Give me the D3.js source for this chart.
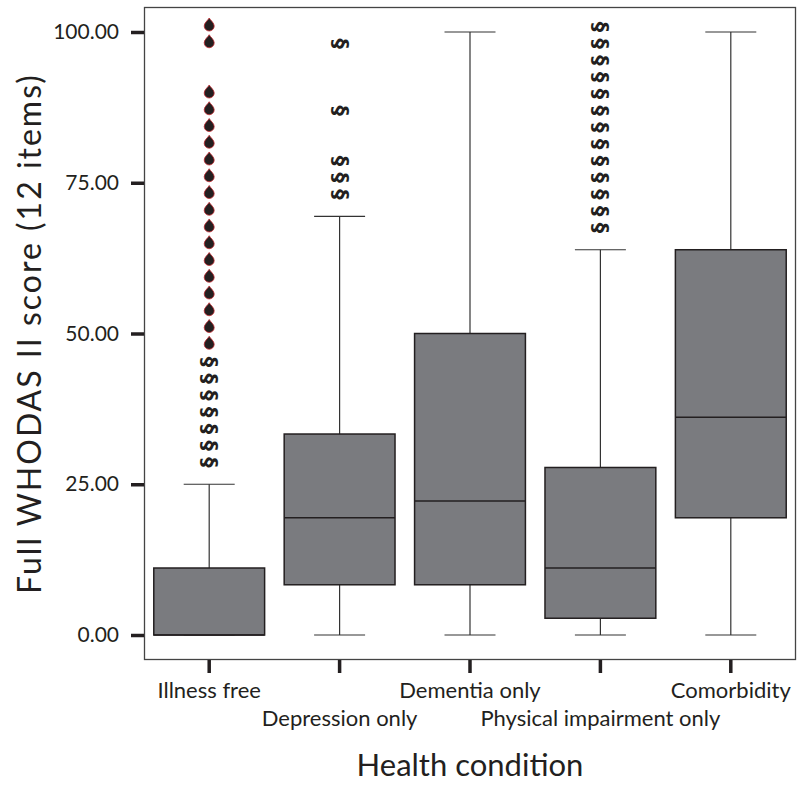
<!DOCTYPE html>
<html>
<head>
<meta charset="utf-8">
<script src="https://cdn.jsdelivr.net/npm/d3@7"></script>
<style>
  body { margin: 0; background: #fff; }
  text { font-family: Lato, "DejaVu Sans", sans-serif; fill: #231f20; }
</style>
</head>
<body>
<div id="chart"></div>
<script>
// values (WHODAS score steps of 100/36)
var categories = ["Illness free", "Depression only", "Dementia only", "Physical impairment only", "Comorbidity"];
var whiskerLow = [0, 0, 0, 0, 0];
var q1 = [0, 8.33, 8.33, 2.78, 19.44];
var median = [0, 19.44, 22.22, 11.11, 36.11];
var q3 = [11.11, 33.33, 50, 27.78, 63.89];
var whiskerHigh = [25, 69.44, 100, 63.89, 100];

// outliers (section sign markers)
var outliers = [
  [27.78, 30.56, 33.33, 36.11, 38.89, 41.67, 44.44],
  [72.22, 75, 77.78, 86.11, 97.22],
  [],
  [66.67, 69.44, 72.22, 75, 77.78, 80.56, 83.33, 86.11, 88.89, 91.67, 94.44, 97.22, 100],
  []
];
// extremes (drop markers)
var extremes = [
  [47.22, 50, 52.78, 55.56, 58.33, 61.11, 63.89, 66.67, 69.44, 72.22, 75, 77.78, 80.56, 83.33, 86.11, 88.89, 97.22, 100],
  [], [], [], []
];
var yTicks = [0, 25, 50, 75, 100];

var width = 806, height = 787;
var pLeft = 144, pRight = 796, pTop = 7, pBottom = 660;

var svg = d3.select("#chart").append("svg")
  .attr("width", width)
  .attr("height", height);

var x = d3.scaleBand()
  .domain(categories)
  .range([pLeft, pRight])
  .paddingInner(0.15)
  .paddingOuter(0.075);

var y = d3.scaleLinear()
  .domain([0, 100])
  .range([635, 32]);

var bw = x.bandwidth();
var cx = function(i) { return x(categories[i]) + bw / 2; };

// frame
svg.append("rect")
  .attr("x", pLeft + 0.5).attr("y", pTop + 0.5)
  .attr("width", pRight - pLeft - 1).attr("height", pBottom - pTop - 1)
  .attr("fill", "none")
  .attr("stroke", "#444")
  .attr("stroke-width", 1.3);

// y axis
var yAxis = d3.axisLeft(y)
  .tickValues(yTicks)
  .tickFormat(d3.format(".2f"))
  .tickSize(13)
  .tickPadding(12);

var gy = svg.append("g")
  .attr("transform", "translate(" + pLeft + ",0)")
  .call(yAxis);
gy.select(".domain").remove();
gy.selectAll(".tick line").attr("stroke", "#231f20").attr("stroke-width", 3.5);
gy.selectAll(".tick text").style("font-size", "21px").attr("fill", "#231f20");

// x axis
var xAxis = d3.axisBottom(x)
  .tickSize(13)
  .tickFormat("");

var gx = svg.append("g")
  .attr("transform", "translate(0," + pBottom + ")")
  .call(xAxis);
gx.select(".domain").remove();
gx.selectAll(".tick line").attr("stroke", "#231f20").attr("stroke-width", 3.5);

svg.selectAll(".x-label")
  .data(categories).enter()
  .append("text")
  .attr("class", "x-label")
  .attr("text-anchor", "middle")
  .attr("x", function(d) { return x(d) + bw / 2; })
  .attr("y", function(d, i) { return i % 2 == 0 ? 698 : 726; })
  .style("font-size", "22px")
  .text(function(d) { return d; });

// whiskers
var boxes = svg.selectAll(".box")
  .data(categories).enter()
  .append("g")
  .attr("class", "box");

boxes.append("line")
  .attr("x1", function(d, i) { return cx(i); })
  .attr("x2", function(d, i) { return cx(i); })
  .attr("y1", function(d, i) { return y(whiskerHigh[i]); })
  .attr("y2", function(d, i) { return y(whiskerLow[i]); })
  .attr("stroke", "#333")
  .attr("stroke-width", 1.2);

boxes.selectAll(".cap")
  .data(function(d, i) { return [whiskerLow[i], whiskerHigh[i]].map(function(v) { return {i: i, v: v}; }); })
  .enter().append("line")
  .attr("class", "cap")
  .attr("x1", function(d) { return cx(d.i) - bw * 0.23; })
  .attr("x2", function(d) { return cx(d.i) + bw * 0.23; })
  .attr("y1", function(d) { return y(d.v); })
  .attr("y2", function(d) { return y(d.v); })
  .attr("stroke", "#333")
  .attr("stroke-width", 1.2);

boxes.append("rect")
  .attr("x", function(d) { return x(d); })
  .attr("width", bw)
  .attr("y", function(d, i) { return y(q3[i]); })
  .attr("height", function(d, i) { return y(q1[i]) - y(q3[i]); })
  .attr("fill", "#7a7b7f")
  .attr("stroke", "#231f20")
  .attr("stroke-width", 1.5);

boxes.append("line")
  .attr("x1", function(d) { return x(d); })
  .attr("x2", function(d) { return x(d) + bw; })
  .attr("y1", function(d, i) { return y(median[i]); })
  .attr("y2", function(d, i) { return y(median[i]); })
  .attr("stroke", "#231f20")
  .attr("stroke-width", 1.5);

// outlier markers (rotated section sign)
var outPts = [];
outliers.forEach(function(arr, i) { arr.forEach(function(v) { outPts.push({i: i, v: v}); }); });
svg.selectAll(".outlier")
  .data(outPts).enter()
  .append("text")
  .attr("class", "outlier")
  .attr("text-anchor", "middle")
  .attr("dominant-baseline", "central")
  .attr("transform", function(d) { return "translate(" + cx(d.i) + "," + (y(d.v) - 5) + ") rotate(-90)"; })
  .style("font-family", "'DejaVu Sans', sans-serif")
  .style("font-size", "21px")
  .style("font-weight", "bold")
  .text("§");

// extreme markers (drops)
var extPts = [];
extremes.forEach(function(arr, i) { arr.forEach(function(v) { extPts.push({i: i, v: v}); }); });
var drop = "M0,-6 C1.5,-3.5 5,-1 5,2 A5,5 0 0 1 -5,2 C-5,-1 -1.5,-3.5 0,-6 Z";
svg.selectAll(".extreme")
  .data(extPts).enter()
  .append("path")
  .attr("class", "extreme")
  .attr("d", drop)
  .attr("transform", function(d) { return "translate(" + cx(d.i) + "," + (y(d.v) - 8) + ")"; })
  .attr("fill", "#231f20")
  .attr("stroke", "#c1272d")
  .attr("stroke-width", 0.8);

// axis titles
svg.append("text")
  .attr("text-anchor", "middle")
  .attr("x", (pLeft + pRight) / 2)
  .attr("y", 776)
  .style("font-size", "31px")
  .text("Health condition");

svg.append("text")
  .attr("text-anchor", "middle")
  .attr("transform", "translate(41," + (pTop + pBottom) / 2 + ") rotate(-90)")
  .style("font-size", "32px")
  .style("letter-spacing", "2px")
  .text("Full WHODAS II score (12 items)");
</script>
</body>
</html>
